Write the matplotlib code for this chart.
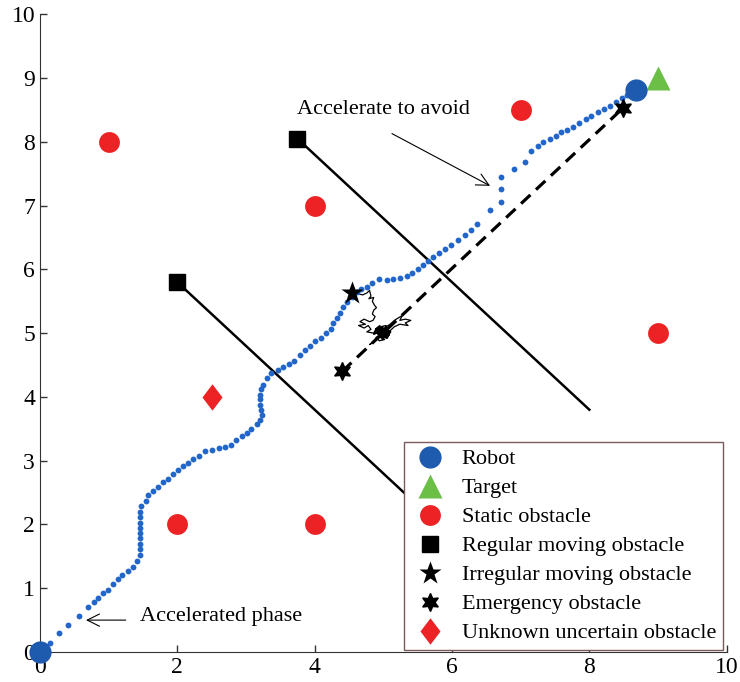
import matplotlib
matplotlib.use("Agg")
import matplotlib.pyplot as plt

plt.rcParams['font.family'] = ['Liberation Serif', 'DejaVu Serif']

# robot trajectory (blue dots)
path_x = [0.00, 0.15, 0.28, 0.41, 0.57, 0.70, 0.78, 0.85, 0.92, 0.99, 1.07, 1.14, 1.20, 1.28,
          1.35, 1.41, 1.46, 1.46, 1.46, 1.46, 1.46, 1.46, 1.46, 1.46, 1.45, 1.47, 1.54, 1.58,
          1.65, 1.72, 1.79, 1.87, 1.94, 2.01, 2.09, 2.16, 2.23, 2.31, 2.40, 2.50, 2.61, 2.69,
          2.78, 2.86, 2.94, 3.01, 3.08, 3.16, 3.20, 3.23, 3.22, 3.20, 3.21, 3.20, 3.22, 3.25,
          3.30, 3.37, 3.47, 3.54, 3.62, 3.70, 3.78, 3.86, 3.93, 4.01, 4.09, 4.17, 4.24, 4.27,
          4.32, 4.37, 4.42, 4.47, 4.54, 4.61, 4.68, 4.76, 4.84, 4.93, 5.05, 5.14, 5.24, 5.34,
          5.42, 5.50, 5.58, 5.65, 5.72, 5.81, 5.90, 5.99, 6.09, 6.19, 6.28, 6.36, 6.55, 6.71,
          6.71, 6.72, 6.90, 7.06, 7.15, 7.25, 7.33, 7.42, 7.51, 7.59, 7.68, 7.76, 7.85, 7.95,
          8.03, 8.13, 8.21, 8.30, 8.39, 8.47, 8.55, 8.63]
path_y = [0.00, 0.14, 0.29, 0.42, 0.56, 0.71, 0.78, 0.85, 0.92, 0.98, 1.06, 1.14, 1.21, 1.27,
          1.34, 1.43, 1.52, 1.62, 1.70, 1.79, 1.87, 1.95, 2.03, 2.11, 2.20, 2.29, 2.37, 2.46,
          2.53, 2.59, 2.66, 2.72, 2.79, 2.85, 2.91, 2.97, 3.03, 3.08, 3.15, 3.17, 3.20, 3.21,
          3.25, 3.33, 3.38, 3.44, 3.50, 3.57, 3.64, 3.72, 3.80, 3.87, 3.96, 4.03, 4.12, 4.19,
          4.29, 4.37, 4.42, 4.47, 4.52, 4.57, 4.66, 4.73, 4.80, 4.87, 4.93, 5.00, 5.07, 5.16,
          5.24, 5.32, 5.41, 5.49, 5.57, 5.64, 5.69, 5.73, 5.78, 5.85, 5.83, 5.85, 5.87, 5.90,
          5.95, 6.00, 6.07, 6.13, 6.20, 6.26, 6.32, 6.38, 6.46, 6.54, 6.62, 6.71, 6.93, 7.06,
          7.26, 7.45, 7.57, 7.68, 7.86, 7.93, 7.99, 8.04, 8.09, 8.15, 8.19, 8.24, 8.30, 8.36,
          8.41, 8.47, 8.52, 8.57, 8.63, 8.68, 8.73, 8.78]

robot_x = [0.0, 8.68]
robot_y = [0.0, 8.81]
target_x = [9.0]
target_y = [9.0]
static_x = [1, 4, 7, 9, 2, 4]
static_y = [8, 7, 8.5, 5, 2, 2]

# regular moving obstacles: start square, end point
reg1_x = [3.75, 8.0]
reg1_y = [8.05, 3.8]
reg2_x = [2.0, 6.3]
reg2_y = [5.8, 1.5]

# irregular moving obstacle: star and its wandering track
irr_x = [4.54]
irr_y = [5.63]
walk_x = [4.54, 4.62, 4.70, 4.76, 4.80, 4.82, 4.79, 4.86, 4.84, 4.87, 4.90, 4.86, 4.84, 4.88,
          4.85, 4.80, 4.72, 4.66, 4.74, 4.64, 4.72, 4.78, 4.82, 4.76, 4.86, 4.90, 4.95, 4.92,
          4.98, 5.02, 4.96, 5.04, 5.00, 5.06, 4.98, 5.02, 4.94, 4.90, 4.86, 4.80, 4.88, 4.96,
          5.04, 5.00, 5.08, 5.04, 5.10, 5.16, 5.22, 5.28, 5.24, 5.32, 5.40, 5.32, 5.36, 5.24,
          5.16, 5.10, 5.06, 5.00, 4.94, 5.02, 4.98, 4.92, 5.02, 4.97, 5.05, 4.95, 5.03, 4.99,
          4.93, 5.07, 5.01, 4.89, 4.96, 5.09, 5.03, 4.91, 4.99, 5.06, 4.94, 4.86, 4.97, 5.04,
          5.11, 5.00, 4.92, 4.98, 5.05, 4.96, 5.02]
walk_y = [5.63, 5.62, 5.60, 5.63, 5.67, 5.58, 5.54, 5.56, 5.50, 5.44, 5.40, 5.36, 5.30, 5.26,
          5.20, 5.18, 5.22, 5.18, 5.14, 5.12, 5.08, 5.12, 5.06, 5.02, 5.00, 5.08, 5.12, 5.04,
          4.98, 5.06, 5.10, 5.12, 5.02, 4.98, 4.94, 4.90, 4.88, 4.94, 4.86, 4.82, 4.90, 5.00,
          4.96, 5.04, 5.04, 5.10, 5.14, 5.20, 5.24, 5.28, 5.20, 5.22, 5.20, 5.16, 5.12, 5.14,
          5.10, 5.04, 4.92, 4.96, 5.04, 5.00, 5.06, 4.98, 4.94, 5.00, 5.08, 5.06, 4.97, 5.10,
          5.02, 5.00, 5.04, 5.07, 4.93, 4.97, 5.08, 5.01, 4.90, 5.02, 5.09, 4.98, 5.03, 4.92,
          5.02, 5.06, 5.00, 4.95, 5.03, 5.05, 4.99]

# emergency obstacle: start and end
emg_x = [4.4, 8.49]
emg_y = [4.4, 8.53]
unknown_x = [2.5]
unknown_y = [4.0]

RED = '#ED2224'
BLUE = '#1E5AAE'
DOT = '#2166C8'
GREEN = '#6BBF47'
hexagram = (6, 1, 0)
diamond = [(-0.38, 0), (0, 0.5), (0.38, 0), (0, -0.5), (-0.38, 0)]

fig = plt.figure(figsize=(7.4, 6.82), dpi=100)
ax = fig.add_axes([0.054, 0.044, 0.928, 0.935])

ax.plot(reg1_x, reg1_y, color='black', lw=1.8, zorder=2)
ax.plot(reg2_x, reg2_y, color='black', lw=1.8, zorder=2)
ax.plot(emg_x, emg_y, color='black', lw=2.3, dashes=(4, 2.4), zorder=2)
ax.plot(walk_x, walk_y, color='black', lw=0.9, zorder=2)
ax.plot(path_x, path_y, 'o', color=DOT, ms=4.2, mec='none', zorder=3)

ax.plot(robot_x, robot_y, 'o', color=BLUE, ms=16, mec='none', zorder=5, label='Robot',
        clip_on=False)
ax.plot(target_x, target_y, '^', color=GREEN, ms=17, mec='none', zorder=4, label='Target')
ax.plot(static_x, static_y, 'o', color=RED, ms=15, mec='none', zorder=4, label='Static obstacle')
ax.plot(reg1_x[:1] + reg2_x[:1], reg1_y[:1] + reg2_y[:1], 's', color='black', ms=12,
        zorder=4, label='Regular moving obstacle')
ax.plot(irr_x, irr_y, '*', color='black', ms=17, mec='none', zorder=4,
        label='Irregular moving obstacle')
ax.plot(emg_x, emg_y, marker=hexagram, ls='none', color='black', ms=13, zorder=4,
        label='Emergency obstacle')
ax.plot(unknown_x, unknown_y, marker=diamond, ls='none', color=RED, ms=19, mec='none',
        zorder=4, label='Unknown uncertain obstacle')

ax.annotate('', xy=(6.59, 7.29), xytext=(5.09, 8.15),
            arrowprops=dict(arrowstyle='->', color='black', lw=0.8, mutation_scale=22))
ax.text(3.74, 8.5, 'Accelerate to avoid', fontsize=16, va='center', ha='left')
ax.annotate('', xy=(0.63, 0.50), xytext=(1.29, 0.50),
            arrowprops=dict(arrowstyle='->', color='black', lw=0.8, mutation_scale=22))
ax.text(1.46, 0.55, 'Accelerated phase', fontsize=16, va='center', ha='left')

ax.set_xlim(0, 10)
ax.set_ylim(0, 10)
ax.set_xticks([0, 2, 4, 6, 8, 10])
ax.set_yticks(range(11))
ax.tick_params(direction='in', labelsize=17, length=5, width=1, colors='#333333',
               labelcolor='black')
for side in ['top', 'right']:
    ax.spines[side].set_visible(False)
for side in ['left', 'bottom']:
    ax.spines[side].set_color('#333333')

leg = ax.legend(loc='lower right', bbox_to_anchor=(0.994, 0.003), fontsize=16,
                frameon=True, fancybox=False, edgecolor='#7A5A5A', framealpha=1,
                borderpad=0.3, labelspacing=0.38, handletextpad=0.5, handlelength=1.8,
                borderaxespad=0)
leg.get_frame().set_linewidth(1.0)
leg.set_zorder(10)

fig.savefig('out.png', dpi=100)
